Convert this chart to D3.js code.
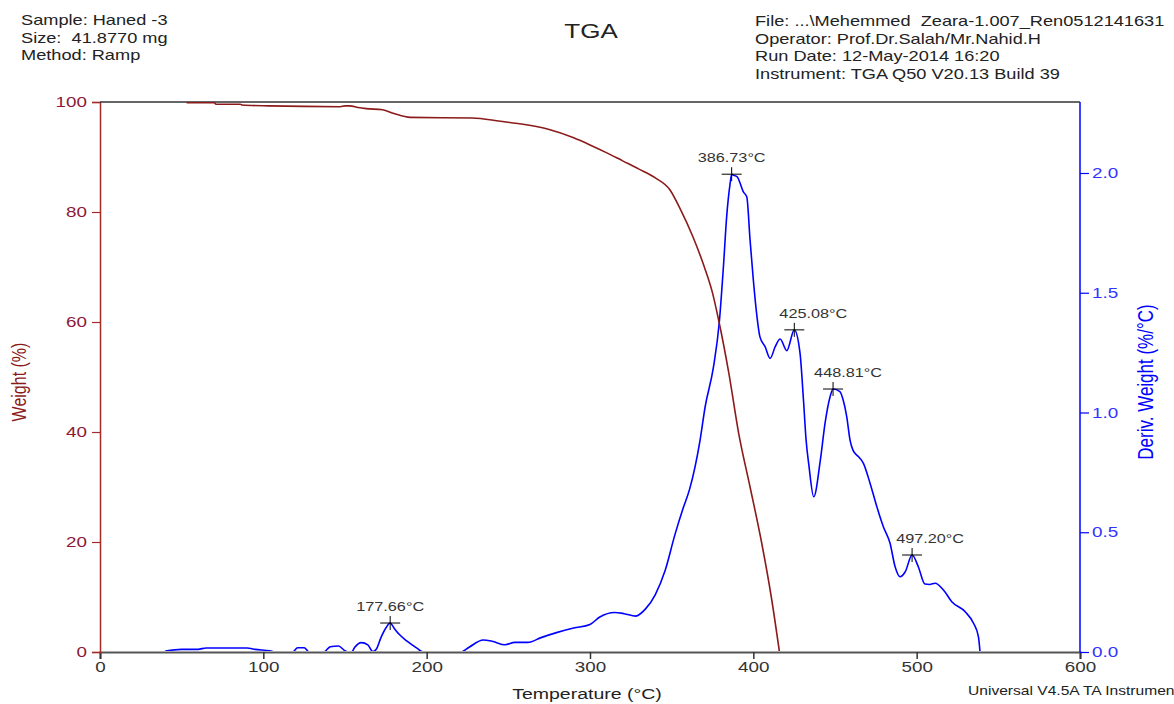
<!DOCTYPE html>
<html>
<head>
<meta charset="utf-8">
<script src="https://cdn.jsdelivr.net/npm/d3@7"></script>
<style>
  body { margin: 0; background: #fff; }
  text { font-family: "Liberation Sans", Arial, sans-serif; white-space: pre; }
</style>
</head>
<body>
<script>
// weight curve (%)
var wTemp = [53, 70, 71, 86, 87, 103, 147, 150, 153, 158, 163, 173, 180, 190, 228, 245, 260, 275, 290, 300, 310, 320, 330, 340, 349, 355, 363, 370, 375, 379, 385, 391, 398, 405, 411, 416];
var wVal  = [99.87, 99.87, 99.6, 99.6, 99.45, 99.3, 99.15, 99.3, 99.3, 99.0, 98.8, 98.6, 97.9, 97.2, 97.1, 96.5, 95.9, 95.0, 93.5, 92.2, 90.8, 89.3, 87.8, 86.2, 84.0, 80.7, 75.5, 70.0, 65.3, 60.0, 50.7, 39.8, 30, 20, 10, 0];

// derivative weight (%/°C)
var dTemp = [40, 50, 60, 65, 90, 95, 104, 107, 118, 121, 125, 128, 137, 141, 146, 150, 152, 154, 156, 160, 164, 167, 169, 172, 175, 177.66, 180, 183, 188, 194, 198,
  221, 226, 234.6, 240, 248, 254, 262, 270, 280, 290, 300, 306, 315, 321, 328, 334, 340, 346, 352, 357, 361, 367.4, 370.5, 375.6, 379.2, 381.7, 383.7, 385.8, 386.73, 388, 390, 394, 396, 398, 400, 402, 404, 407.2, 410.3, 413.4, 416.4, 420.5, 425.08, 428.6, 430.7, 432.3, 434, 437, 441, 444, 447, 448.81, 453, 455, 457.2, 459.2, 461, 464.3, 467.4, 471.5, 475.6, 479.6, 483.7, 486.8, 489.9, 493, 497.2, 501, 505, 508, 511.3, 516.4, 521.5, 529.7, 534.8, 537.8, 538.8];
var dVal = [0.004, 0.011, 0.011, 0.017, 0.017, 0.011, 0.005, 0, 0, 0.018, 0.018, 0, 0, 0.022, 0.025, 0.005, 0, 0, 0.02, 0.039, 0.03, 0.002, 0.01, 0.06, 0.1, 0.121, 0.1, 0.075, 0.045, 0.016, 0,
  0, 0.02, 0.05, 0.045, 0.03, 0.04, 0.04, 0.06, 0.082, 0.1, 0.115, 0.146, 0.165, 0.16, 0.15, 0.18, 0.24, 0.34, 0.49, 0.6, 0.68, 0.885, 1.024, 1.19, 1.38, 1.61, 1.82, 1.957, 1.995, 1.99, 1.985, 1.92, 1.9, 1.72, 1.553, 1.414, 1.317, 1.275, 1.226, 1.275, 1.307, 1.258, 1.345, 1.247, 1.052, 0.885, 0.78, 0.648, 0.80, 0.96, 1.066, 1.098, 1.087, 1.052, 0.982, 0.885, 0.843, 0.816, 0.788, 0.704, 0.607, 0.523, 0.454, 0.356, 0.314, 0.335, 0.405, 0.356, 0.284, 0.282, 0.287, 0.259, 0.21, 0.168, 0.12, 0.064, 0];

// marked peaks
var peakTemp = [177.66, 386.73, 425.08, 448.81, 497.20];
var peakVal  = [0.121, 1.995, 1.345, 1.098, 0.405];
var peakText = ["177.66°C", "386.73°C", "425.08°C", "448.81°C", "497.20°C"];
var peakShift = [0, 0, 19, 15, 18];  // label nudge to the right

var xTicks = [0, 100, 200, 300, 400, 500, 600];
var wTicks = [0, 20, 40, 60, 80, 100];
var dTicks = [0.0, 0.5, 1.0, 1.5, 2.0];

var headLeft  = ["Sample: Haned -3", "Size:  41.8770 mg", "Method: Ramp"];
var headRight = ["File: ...\\Mehemmed  Zeara-1.007_Ren0512141631", "Operator: Prof.Dr.Salah/Mr.Nahid.H", "Run Date: 12-May-2014 16:20", "Instrument: TGA Q50 V20.13 Build 39"];

var SX = 1.3; // the picture is stretched sideways
var W = 1174, H = 704;
var red = "#8b1a1a", blue = "#0000ff";

var svg = d3.select("body").append("svg").attr("width", W).attr("height", H);

var x = d3.scaleLinear().domain([0, 600]).range([100, 1080]);
var yW = d3.scaleLinear().domain([0, 100]).range([652, 102]);
var yD = d3.scaleLinear().domain([0, 2]).range([652, 173]);
var dTop = yD.invert(102);

function stext(g, px, py, str, size, color, anchor) {
  return g.append("text")
    .attr("transform", "translate(" + px + "," + py + ") scale(" + SX + ",1)")
    .attr("font-size", size).attr("fill", color)
    .attr("text-anchor", anchor || "start")
    .attr("xml:space", "preserve")
    .text(str);
}

svg.append("defs").append("clipPath").attr("id", "plot")
  .append("rect").attr("x", 100).attr("y", 101).attr("width", 980).attr("height", 550);

// header
headLeft.forEach(function(s, i) { stext(svg, 21, 25 + i * 17.5, s, 14, "#222"); });
headRight.forEach(function(s, i) { stext(svg, 755, 26 + i * 17.7, s, 14, "#222"); });
stext(svg, 591, 38, "TGA", 20, "#222", "middle");
stext(svg, 968, 695, "Universal V4.5A TA Instruments", 12, "#222");

// axes
var gx = svg.append("g").attr("transform", "translate(0,652)");
gx.call(d3.axisBottom(x).tickValues(d3.range(50, 600, 100)).tickSize(5).tickFormat(""));
gx.call(d3.axisBottom(x).tickValues(xTicks).tickSize(7).tickFormat(d3.format("d")));
gx.selectAll(".domain").attr("stroke", "#555").attr("stroke-width", 2);
gx.selectAll(".tick line").attr("stroke", "#333").attr("stroke-width", 1.5);
gx.selectAll("text").attr("font-size", 14.5).attr("fill", "#333")
  .attr("font-family", "Liberation Sans, Arial, sans-serif")
  .attr("transform", "scale(" + SX + ",1)");

var gl = svg.append("g").attr("transform", "translate(100,0)");
gl.call(d3.axisLeft(yW).tickValues(d3.range(0, 101, 5)).tickSize(5).tickFormat(""));
gl.call(d3.axisLeft(yW).tickValues(wTicks).tickSize(8).tickPadding(5).tickFormat(d3.format("d")));
gl.selectAll(".domain").attr("stroke", "#a52a2a").attr("stroke-width", 1.5);
gl.selectAll(".tick line").attr("stroke", "#a52a2a").attr("stroke-width", 1.2);
gl.selectAll("text").attr("font-size", 14.5).attr("fill", "#8b1a3a")
  .attr("font-family", "Liberation Sans, Arial, sans-serif")
  .attr("x", -13 / SX).attr("transform", "scale(" + SX + ",1)");

var gr = svg.append("g").attr("transform", "translate(1080,0)");
gr.call(d3.axisRight(yD).tickValues(d3.range(0, dTop, 0.05)).tickSize(5).tickFormat(""));
gr.call(d3.axisRight(yD).tickValues(dTicks).tickSize(9).tickFormat(d3.format(".1f")));
gr.selectAll(".domain").remove();
gr.append("line").attr("x1", 0).attr("x2", 0).attr("y1", 102).attr("y2", 652)
  .attr("stroke", blue).attr("stroke-width", 1.5);
gr.selectAll(".tick line").attr("stroke", blue).attr("stroke-width", 1.2);
gr.selectAll("text").attr("font-size", 14.5).attr("fill", "#3333ff")
  .attr("font-family", "Liberation Sans, Arial, sans-serif")
  .attr("x", 12 / SX).attr("transform", "scale(" + SX + ",1)");

// top frame line
svg.append("line").attr("x1", 100).attr("x2", 1080).attr("y1", 102).attr("y2", 102)
  .attr("stroke", "#333").attr("stroke-width", 1.5);

// axis titles
stext(svg, 587, 699, "Temperature (°C)", 15, "#222", "middle");
svg.append("text")
  .attr("transform", "translate(26,382) rotate(-90) scale(1," + SX + ")")
  .attr("text-anchor", "middle").attr("font-size", 16).attr("fill", red)
  .text("Weight (%)");
svg.append("text")
  .attr("transform", "translate(1153,382) rotate(-90) scale(1," + SX + ")")
  .attr("text-anchor", "middle").attr("font-size", 17).attr("fill", blue)
  .text("Deriv. Weight (%/°C)");

// curves
var plot = svg.append("g").attr("clip-path", "url(#plot)");
var deriv = dTemp.map(function(t, i) { return [t, dVal[i]]; });
var weight = wTemp.map(function(t, i) { return [t, wVal[i]]; });

plot.append("path").datum(deriv)
  .attr("d", d3.line().curve(d3.curveMonotoneX)
    .x(function(d) { return x(d[0]); }).y(function(d) { return yD(d[1]); }))
  .attr("fill", "none").attr("stroke", blue).attr("stroke-width", 1.6);

plot.append("path").datum(weight)
  .attr("d", d3.line().curve(d3.curveMonotoneX)
    .x(function(d) { return x(d[0]); }).y(function(d) { return yW(d[1]); }))
  .attr("fill", "none").attr("stroke", red).attr("stroke-width", 1.6);

// peak markers
var peaks = svg.append("g");
peakTemp.forEach(function(t, i) {
  var px = x(t), py = yD(peakVal[i]);
  peaks.append("line").attr("x1", px - 10).attr("x2", px + 10).attr("y1", py).attr("y2", py)
    .attr("stroke", "#000").attr("stroke-width", 1);
  peaks.append("line").attr("x1", px).attr("x2", px).attr("y1", py - 7).attr("y2", py + 7)
    .attr("stroke", "#000").attr("stroke-width", 1);
  stext(peaks, px + peakShift[i], py - 12, peakText[i], 12.5, "#333", "middle");
});
</script>
</body>
</html>
